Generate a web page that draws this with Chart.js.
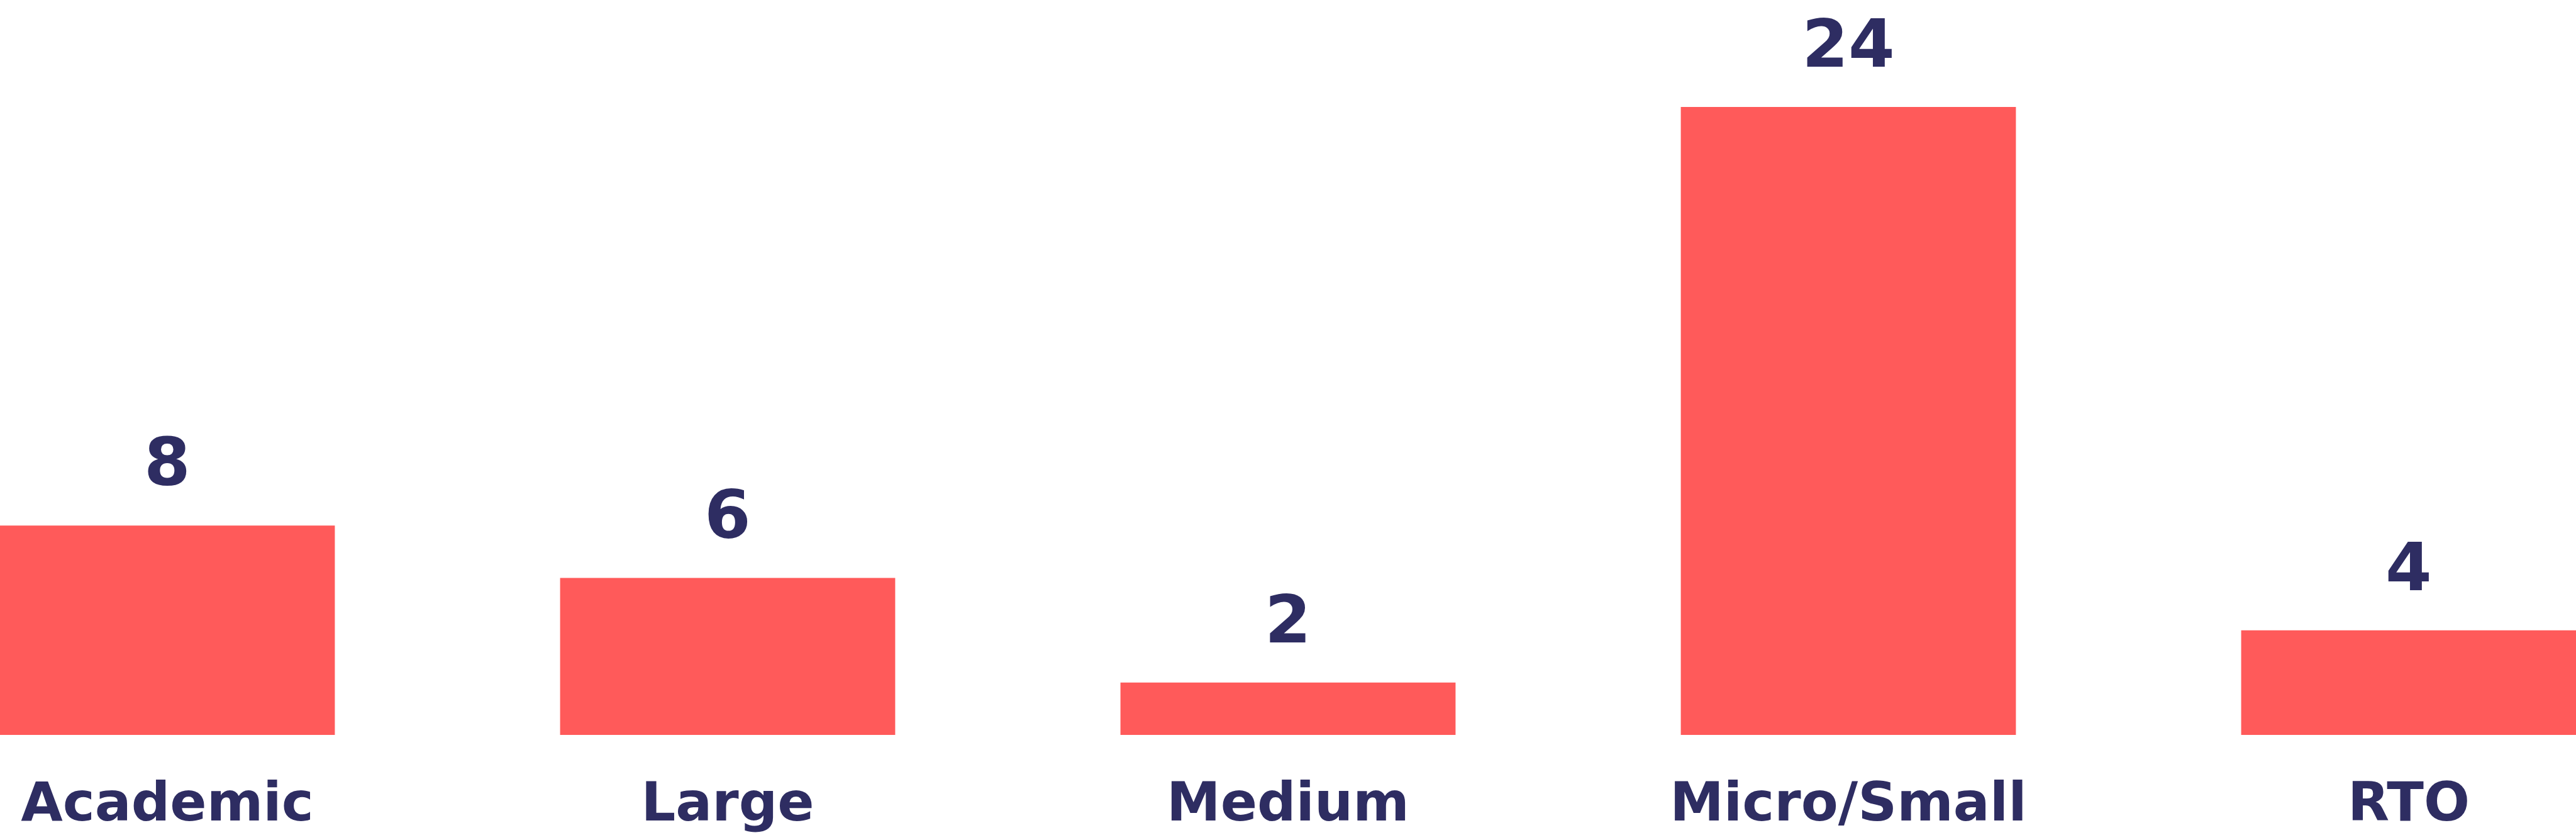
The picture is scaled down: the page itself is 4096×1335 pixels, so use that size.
<!DOCTYPE html>
<html>
<head>
<meta charset="utf-8">
<script src="https://cdn.jsdelivr.net/npm/chart.js@4"></script>
<style>
  html, body { margin: 0; padding: 0; background: #fff; }
  #wrap { width: 4096px; height: 1335px; }
</style>
</head>
<body>
<div id="wrap"><canvas id="chart-orgs"></canvas></div>
<script>
// Organisations by type
const categories = ['Academic', 'Large', 'Medium', 'Micro/Small', 'RTO'];
const counts = [8, 6, 2, 24, 4];

const navy = '#2e2d62';
const coral = '#ff5a5a';

// draws the number above each bar
const valueLabels = {
    id: 'valueLabels',
    afterDatasetsDraw(chart) {
        const ctx = chart.ctx;
        const meta = chart.getDatasetMeta(0);
        ctx.save();
        ctx.font = 'bold 106px "DejaVu Sans"';
        ctx.fillStyle = navy;
        ctx.textAlign = 'center';
        ctx.textBaseline = 'alphabetic';
        meta.data.forEach((bar, i) => {
            ctx.fillText(String(counts[i]), bar.x, bar.y - 64);
        });
        ctx.restore();
    }
};

new Chart(document.getElementById('chart-orgs'), {
    type: 'bar',
    data: {
        labels: categories,
        datasets: [{
            data: counts,
            backgroundColor: coral,
            borderWidth: 0,
            barPercentage: 0.598,
            categoryPercentage: 1,
            clip: false
        }]
    },
    options: {
        responsive: true,
        maintainAspectRatio: false,
        animation: false,
        layout: { padding: { top: 170, left: 266, right: 266, bottom: 3 } },
        plugins: {
            legend: { display: false },
            tooltip: { enabled: false }
        },
        scales: {
            x: {
                offset: false,
                grid: { display: false, drawTicks: false },
                border: { display: false },
                ticks: {
                    color: navy,
                    padding: 66,
                    maxRotation: 0,
                    autoSkip: false,
                    font: { family: '"DejaVu Sans"', size: 86, weight: 'bold', lineHeight: 1.1 }
                },
                afterFit(scale) {
                    // keep the layout padding in charge of the plot edges
                    scale.paddingLeft = 0;
                    scale.paddingRight = 0;
                    scale.height = 164;
                }
            },
            y: {
                display: false,
                min: 0,
                max: Math.max(...counts)
            }
        }
    },
    plugins: [valueLabels]
});
</script>
</body>
</html>
